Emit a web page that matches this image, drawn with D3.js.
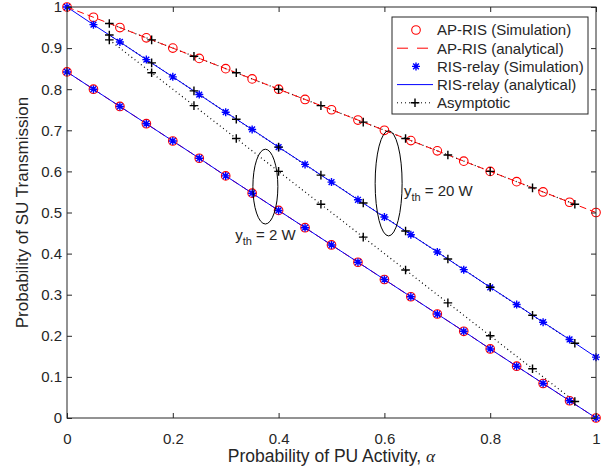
<!DOCTYPE html>
<html>
<head>
<meta charset="utf-8">
<script src="https://cdn.jsdelivr.net/npm/d3@7"></script>
<style>
  body { margin: 0; background: #fff; }
  text { font-family: "Liberation Sans", Arial, sans-serif; fill: #262626; }
</style>
</head>
<body>
<script>
// simulation / analytical points (alpha step 0.05)
var alphaSim = [0,0.05,0.1,0.15,0.2,0.25,0.3,0.35,0.4,0.45,0.5,0.55,0.6,0.65,0.7,0.75,0.8,0.85,0.9,0.95,1];
var apRis20 = [1,0.975,0.95,0.925,0.9,0.875,0.85,0.825,0.8,0.775,0.75,0.725,0.7,0.675,0.65,0.625,0.6,0.575,0.55,0.525,0.5];
var risRelay20 = [1,0.957,0.915,0.872,0.830,0.787,0.744,0.702,0.659,0.617,0.574,0.531,0.489,0.446,0.404,0.361,0.318,0.276,0.233,0.191,0.148];
var apRis2 = [0.842,0.800,0.758,0.716,0.674,0.632,0.589,0.547,0.505,0.463,0.421,0.379,0.337,0.295,0.253,0.211,0.168,0.126,0.084,0.042,0];
var risRelay2 = [0.842,0.800,0.758,0.716,0.674,0.632,0.589,0.547,0.505,0.463,0.421,0.379,0.337,0.295,0.253,0.211,0.168,0.126,0.084,0.042,0];

// asymptotic points (alpha step 0.08)
var alphaAsym = [0.08,0.16,0.24,0.32,0.4,0.48,0.56,0.64,0.72,0.8,0.88,0.96];
var asymApRis20 = [0.96,0.92,0.88,0.84,0.80,0.76,0.72,0.68,0.64,0.60,0.56,0.52];
var asymRisRelay20 = [0.932,0.864,0.796,0.727,0.659,0.591,0.523,0.455,0.387,0.318,0.250,0.182];
var asym2 = [0.92,0.84,0.76,0.68,0.60,0.52,0.44,0.36,0.28,0.20,0.12,0.04];

var xTicks = [0,0.2,0.4,0.6,0.8,1];
var yTicks = [0,0.1,0.2,0.3,0.4,0.5,0.6,0.7,0.8,0.9,1];

var legendItems = ["AP-RIS (Simulation)","AP-RIS (analytical)","RIS-relay (Simulation)","RIS-relay (analytical)","Asymptotic"];

var width = 611, height = 470;
var pLeft = 67, pRight = 596, pTop = 7, pBottom = 418;
var axisColor = "#262626";

var svg = d3.select("body").append("svg")
    .attr("width", width)
    .attr("height", height);

var x = d3.scaleLinear().domain([0, 1]).range([pLeft, pRight]);
var y = d3.scaleLinear().domain([0, 1]).range([pBottom, pTop]);

function pts(xs, ys) { return xs.map(function (d, i) { return [d, ys[i]]; }); }

var line = d3.line()
    .x(function (d) { return x(d[0]); })
    .y(function (d) { return y(d[1]); });

var plot = svg.append("g");

function drawLine(data, color, dash, w) {
    plot.append("path")
        .datum(data)
        .attr("d", line)
        .attr("fill", "none")
        .attr("stroke", color)
        .attr("stroke-width", w || 1)
        .attr("stroke-dasharray", dash || null);
}

// marker helpers
function circle(g, cx, cy) {
    g.append("circle").attr("cx", cx).attr("cy", cy).attr("r", 4.3)
        .attr("fill", "none").attr("stroke", "#ff0000").attr("stroke-width", 1.1);
}
function star(g, cx, cy) {
    var r = 4, s = r * 0.72;
    var p = "M" + (cx - r) + "," + cy + "H" + (cx + r) +
        "M" + cx + "," + (cy - r) + "V" + (cy + r) +
        "M" + (cx - s) + "," + (cy - s) + "L" + (cx + s) + "," + (cy + s) +
        "M" + (cx - s) + "," + (cy + s) + "L" + (cx + s) + "," + (cy - s);
    g.append("path").attr("d", p).attr("stroke", "#0000ff").attr("stroke-width", 1.4).attr("fill", "none");
}
function plus(g, cx, cy) {
    var r = 4.3;
    g.append("path").attr("d", "M" + (cx - r) + "," + cy + "H" + (cx + r) + "M" + cx + "," + (cy - r) + "V" + (cy + r))
        .attr("stroke", "#000").attr("stroke-width", 1.4).attr("fill", "none");
}

// asymptotic (black dotted) underneath
drawLine(pts(alphaAsym, asymApRis20), "#000", "1,3", 1.2);
drawLine(pts(alphaAsym, asymRisRelay20), "#000", "1,3", 1.2);
drawLine(pts(alphaAsym, asym2), "#000", "1,3", 1.2);
// AP-RIS analytical (red dashed)
drawLine(pts(alphaSim, apRis20), "#ff0000", "7,4");
drawLine(pts(alphaSim, apRis2), "#ff0000", "7,4");
// RIS-relay analytical (blue solid)
drawLine(pts(alphaSim, risRelay20), "#0000ff");
drawLine(pts(alphaSim, risRelay2), "#0000ff");

var marks = plot.append("g");
pts(alphaSim, apRis20).forEach(function (d) { circle(marks, x(d[0]), y(d[1])); });
pts(alphaSim, apRis2).forEach(function (d) { circle(marks, x(d[0]), y(d[1])); });
pts(alphaSim, risRelay20).forEach(function (d) { star(marks, x(d[0]), y(d[1])); });
pts(alphaSim, risRelay2).forEach(function (d) { star(marks, x(d[0]), y(d[1])); });
[asymApRis20, asymRisRelay20, asym2].forEach(function (s) {
    pts(alphaAsym, s).forEach(function (d) { plus(marks, x(d[0]), y(d[1])); });
});

// ellipses + annotations
function ellipse(cx, cy, rx, ry) {
    plot.append("ellipse")
        .attr("cx", x(cx)).attr("cy", y(cy))
        .attr("rx", x(cx + rx) - x(cx)).attr("ry", y(cy) - y(cy + ry))
        .attr("fill", "none").attr("stroke", "#000").attr("stroke-width", 1);
}
ellipse(0.375, 0.563, 0.0236, 0.091);
ellipse(0.608, 0.571, 0.0255, 0.128);

function label(px, py, main) {
    var t = svg.append("text").attr("x", x(px)).attr("y", y(py)).attr("font-size", 15);
    t.append("tspan").text("y");
    t.append("tspan").attr("font-size", 11).attr("dy", 5).text("th");
    t.append("tspan").attr("dy", -5).text(" = " + main);
}
label(0.318, 0.433, "2 W");
label(0.637, 0.540, "20 W");

// axes box
svg.append("rect")
    .attr("x", pLeft).attr("y", pTop)
    .attr("width", pRight - pLeft).attr("height", pBottom - pTop)
    .attr("fill", "none").attr("stroke", axisColor).attr("stroke-width", 1);

var tl = 5;
svg.append("g").attr("transform", "translate(0," + pBottom + ")")
    .call(d3.axisBottom(x).tickValues(xTicks).tickSizeInner(-tl).tickSizeOuter(0).tickPadding(15)
        .tickFormat(d3.format("~g")));
svg.append("g").attr("transform", "translate(0," + pTop + ")")
    .call(d3.axisTop(x).tickValues(xTicks).tickSizeInner(-tl).tickSizeOuter(0).tickFormat(""));
svg.append("g").attr("transform", "translate(" + pLeft + ",0)")
    .call(d3.axisLeft(y).tickValues(yTicks).tickSizeInner(-tl).tickSizeOuter(0).tickPadding(5)
        .tickFormat(d3.format("~g")));
svg.append("g").attr("transform", "translate(" + pRight + ",0)")
    .call(d3.axisRight(y).tickValues(yTicks).tickSizeInner(-tl).tickSizeOuter(0).tickFormat(""));

svg.selectAll(".domain").remove();
svg.selectAll(".tick line").attr("stroke", axisColor);
svg.selectAll(".tick text").attr("font-size", 15).attr("fill", axisColor)
    .attr("font-family", "Liberation Sans, Arial, sans-serif");

// axis labels
var xl = svg.append("text").attr("x", (pLeft + pRight) / 2).attr("y", 462)
    .attr("text-anchor", "middle").attr("font-size", 17.5);
xl.append("tspan").text("Probability of PU Activity,  ");
xl.append("tspan").attr("font-family", "Liberation Serif, serif").attr("font-style", "italic").text("α");

svg.append("text")
    .attr("transform", "translate(28," + ((pTop + pBottom) / 2) + ") rotate(-90)")
    .attr("text-anchor", "middle").attr("font-size", 17)
    .text("Probability of SU Transmission");

// legend
var lg = svg.append("g").attr("transform", "translate(392,17)");
lg.append("rect").attr("width", 196).attr("height", 97)
    .attr("fill", "#fff").attr("stroke", axisColor).attr("stroke-width", 1);
legendItems.forEach(function (name, i) {
    var cy = 13 + i * 18.2;
    var g = lg.append("g");
    if (i === 0) circle(g, 24, cy);
    if (i === 1) g.append("line").attr("x1", 5).attr("x2", 41).attr("y1", cy).attr("y2", cy)
        .attr("stroke", "#ff0000").attr("stroke-dasharray", "11,9");
    if (i === 2) star(g, 24, cy);
    if (i === 3) g.append("line").attr("x1", 5).attr("x2", 41).attr("y1", cy).attr("y2", cy)
        .attr("stroke", "#0000ff");
    if (i === 4) {
        g.append("line").attr("x1", 5).attr("x2", 41).attr("y1", cy).attr("y2", cy)
            .attr("stroke", "#000").attr("stroke-dasharray", "1,3");
        plus(g, 23, cy);
    }
    g.append("text").attr("x", 45).attr("y", cy + 5.3).attr("font-size", 15).text(name);
});
</script>
</body>
</html>
